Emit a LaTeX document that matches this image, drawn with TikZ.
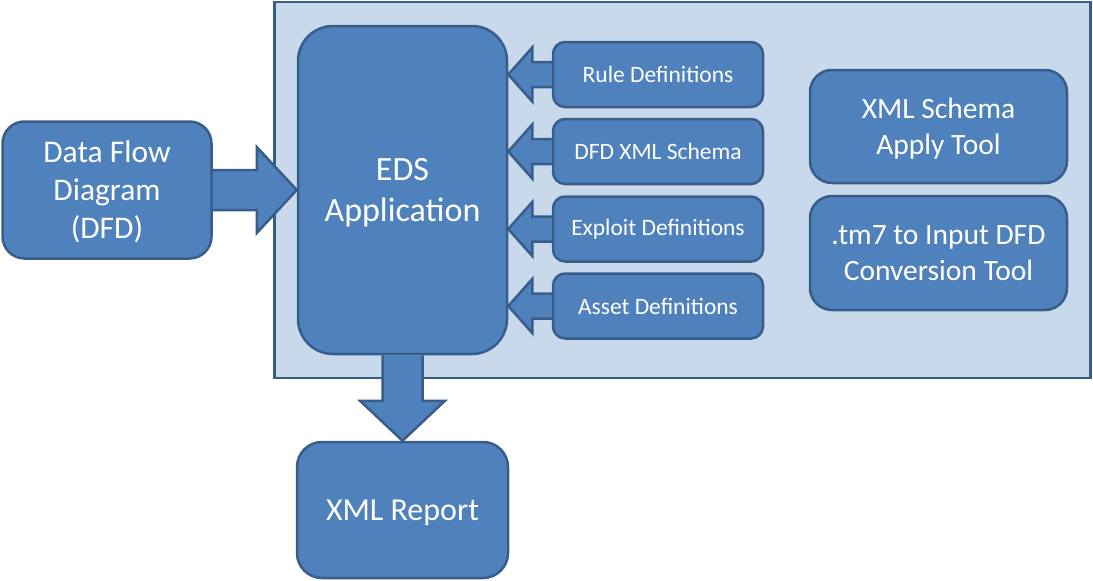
\documentclass[tikz,border=0pt]{standalone}
\usepackage{fontspec}
\setmainfont{Carlito}
\usetikzlibrary{calc}
\definecolor{boxfill}{HTML}{4F81BD}
\definecolor{boxline}{HTML}{385D8A}
\definecolor{panelfill}{HTML}{C9D9EC}
\tikzset{
  blk/.style={draw=boxline, fill=boxfill, line width=2.5pt, text=white, align=center, inner sep=0pt},
  barrow/.style={draw=boxline, fill=boxfill, line width=2.5pt, line join=miter},
  bigfont/.style={font=\fontsize{34}{41.5}\selectfont},
  midfont/.style={font=\fontsize{31.5}{38}\selectfont},
  sidefont/.style={font=\fontsize{29.5}{36}\selectfont},
  smallfont/.style={font=\fontsize{23.5}{28}\selectfont},
}
\begin{document}
\begin{tikzpicture}[x=1pt,y=-1pt]
\useasboundingbox (0,0) rectangle (1093,581);
% panel
\node[draw=boxline, fill=panelfill, line width=2.5pt, minimum width=816pt, minimum height=376pt, inner sep=0pt] (panel) at (682.5,190) {};
% main boxes
\node[blk, bigfont, text depth=0pt, rounded corners=35pt, minimum width=209pt, minimum height=328pt] (eds) at (402.5,190) {EDS\\Application};
\node[blk, midfont, text depth=0pt, rounded corners=22pt, minimum width=209pt, minimum height=137pt] (dfd) at (107,190) {Data Flow\\Diagram\\(DFD)};
\node[blk, midfont, font=\fontsize{32}{38}\selectfont, text depth=0pt, rounded corners=25pt, minimum width=211pt, minimum height=136pt] (report) at (402.5,510) {XML Report};
% definition boxes
\node[blk, smallfont, rounded corners=12pt, minimum width=210pt, minimum height=65pt] (r1) at (658,74.5) {Rule Definitions};
\node[blk, smallfont, rounded corners=12pt, minimum width=210pt, minimum height=65pt] (r2) at (658,151.5) {DFD XML Schema};
\node[blk, smallfont, rounded corners=12pt, minimum width=210pt, minimum height=65pt] (r3) at (658,229) {Exploit Definitions};
\node[blk, smallfont, rounded corners=12pt, minimum width=210pt, minimum height=65pt] (r4) at (658,306) {Asset Definitions};
% tool boxes
\node[blk, sidefont, text depth=0pt, rounded corners=22pt, minimum width=257pt, minimum height=113pt] (t1) at (938.5,126.5) {XML Schema\\Apply Tool};
\node[blk, sidefont, rounded corners=22pt, minimum width=257pt, minimum height=114pt] (t2) at (938.5,253) {.tm7 to Input DFD\\Conversion Tool};
% block arrow DFD -> EDS
\draw[barrow] ($(dfd.east)+(0,-20)$) -- ($(eds.west)+(-40,-20)$) -- ($(eds.west)+(-40,-43)$) -- (eds.west)
  -- ($(eds.west)+(-40,43)$) -- ($(eds.west)+(-40,20)$) -- ($(dfd.east)+(0,20)$);
% block arrow EDS -> report
\draw[barrow] ($(eds.south)+(-20,0)$) -- ($(report.north)+(-20,-40)$) -- ($(report.north)+(-42.5,-40)$) -- (report.north)
  -- ($(report.north)+(42.5,-40)$) -- ($(report.north)+(20,-40)$) -- ($(eds.south)+(20,0)$);
% small arrows definitions -> EDS
\foreach \n in {r1,r2,r3,r4}{
  \coordinate (tip) at (eds.east |- \n.west);
  \draw[barrow] ($(\n.west)+(0,-12.5)$) -- ($(tip)+(24,-12.5)$) -- ($(tip)+(24,-27)$) -- (tip)
    -- ($(tip)+(24,27)$) -- ($(tip)+(24,12.5)$) -- ($(\n.west)+(0,12.5)$);
}
\end{tikzpicture}
\end{document}
